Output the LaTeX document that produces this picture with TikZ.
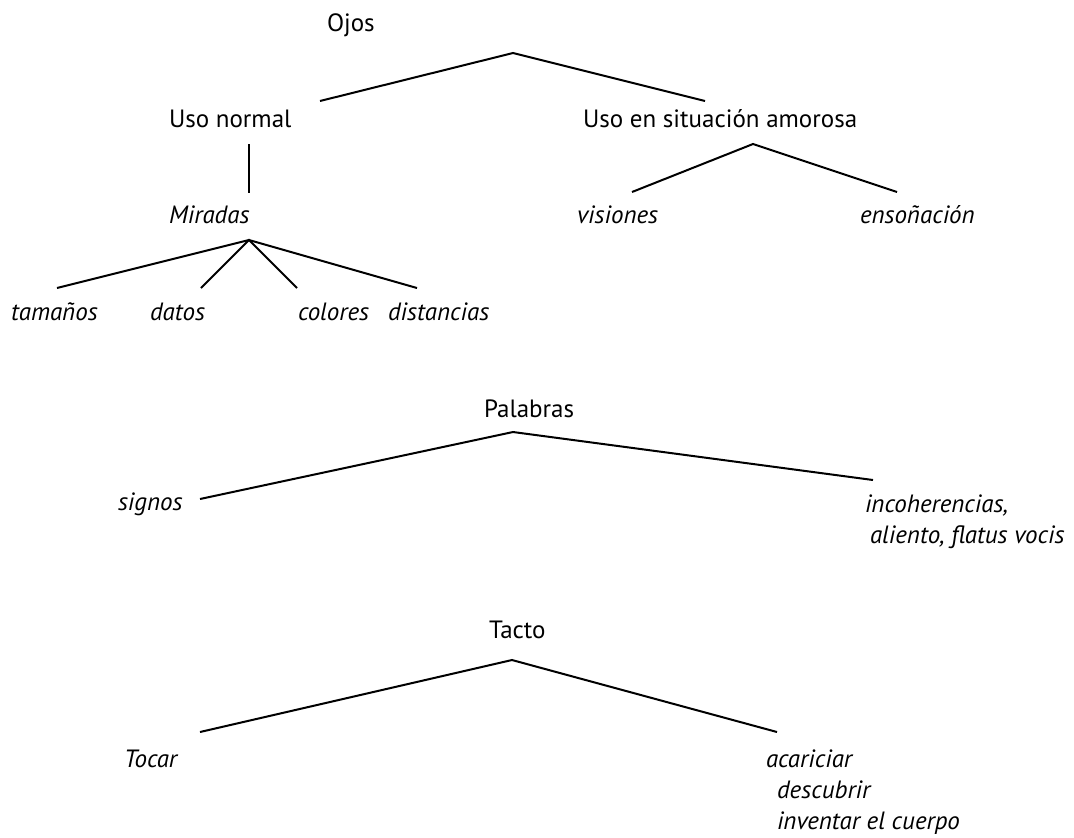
\documentclass[tikz,border=0pt]{standalone}
\usepackage{fontspec}
\setmainfont{PT Sans}
\begin{document}
\begin{tikzpicture}[x=0.5pt,y=-0.5pt,line width=1pt,
    lbl/.style={anchor=base west,inner sep=0pt,font=\fontsize{12.5}{15}\selectfont},
    ilbl/.style={lbl,font=\fontsize{12.5}{15}\selectfont\itshape}]
    \useasboundingbox (0,0) rectangle (1074,837);
    % Ojos
    \node[lbl] (ojos) at (326,31) {Ojos};
    \coordinate (ojostop) at (513,53);
    \coordinate (ojosl) at (320,101);
    \coordinate (ojosr) at (705,101);
    \draw (ojosl) -- (ojostop) -- (ojosr);
    \node[lbl] (normal) at (168,127) {Uso normal};
    \node[lbl] (amorosa) at (582,127) {Uso en situación amorosa};
    % uso normal
    \coordinate (normalb) at (249,144);
    \coordinate (miradast) at (249,193);
    \draw (normalb) -- (miradast);
    \node[ilbl] (miradas) at (168,223) {Miradas};
    \coordinate (miradastop) at (249,240);
    \foreach \x/\n in {57/a,201/b,297/c,417/d}
        \coordinate (mir\n) at (\x,288);
    \draw (mira) -- (miradastop) -- (mird);
    \draw (mirb) -- (miradastop) -- (mirc);
    \node[ilbl] (tamanos) at (10,320) {tamaños};
    \node[ilbl] (datos) at (149,320) {datos};
    \node[ilbl] (colores) at (297,320) {colores};
    \node[ilbl] (distancias) at (387,320) {distancias};
    % uso amoroso
    \coordinate (amorosatop) at (753,144);
    \coordinate (amorosal) at (632,192);
    \coordinate (amorosar) at (897,192);
    \draw (amorosal) -- (amorosatop) -- (amorosar);
    \node[ilbl] (visiones) at (576,223) {visiones};
    \node[ilbl] (ensonacion) at (859,223) {ensoñación};
    % Palabras
    \node[lbl] (palabras) at (483,417) {Palabras};
    \coordinate (palabrastop) at (513,432);
    \coordinate (palabrasl) at (200,499);
    \coordinate (palabrasr) at (873,480);
    \draw (palabrasl) -- (palabrastop) -- (palabrasr);
    \node[ilbl] (signos) at (117,510) {signos};
    \node[ilbl] (incoher) at (864,512) {incoherencias,};
    \node[ilbl] (aliento) at (869,543) {aliento, flatus vocis};
    % Tacto
    \node[lbl] (tacto) at (488,638) {Tacto};
    \coordinate (tactotop) at (512,660);
    \coordinate (tactol) at (200,732);
    \coordinate (tactor) at (777,732);
    \draw (tactol) -- (tactotop) -- (tactor);
    \node[ilbl] (tocar) at (123,767) {Tocar};
    \node[ilbl] (acariciar) at (765,767) {acariciar};
    \node[ilbl] (descubrir) at (776,798) {descubrir};
    \node[ilbl] (inventar) at (776,829) {inventar el cuerpo};
\end{tikzpicture}
\end{document}
